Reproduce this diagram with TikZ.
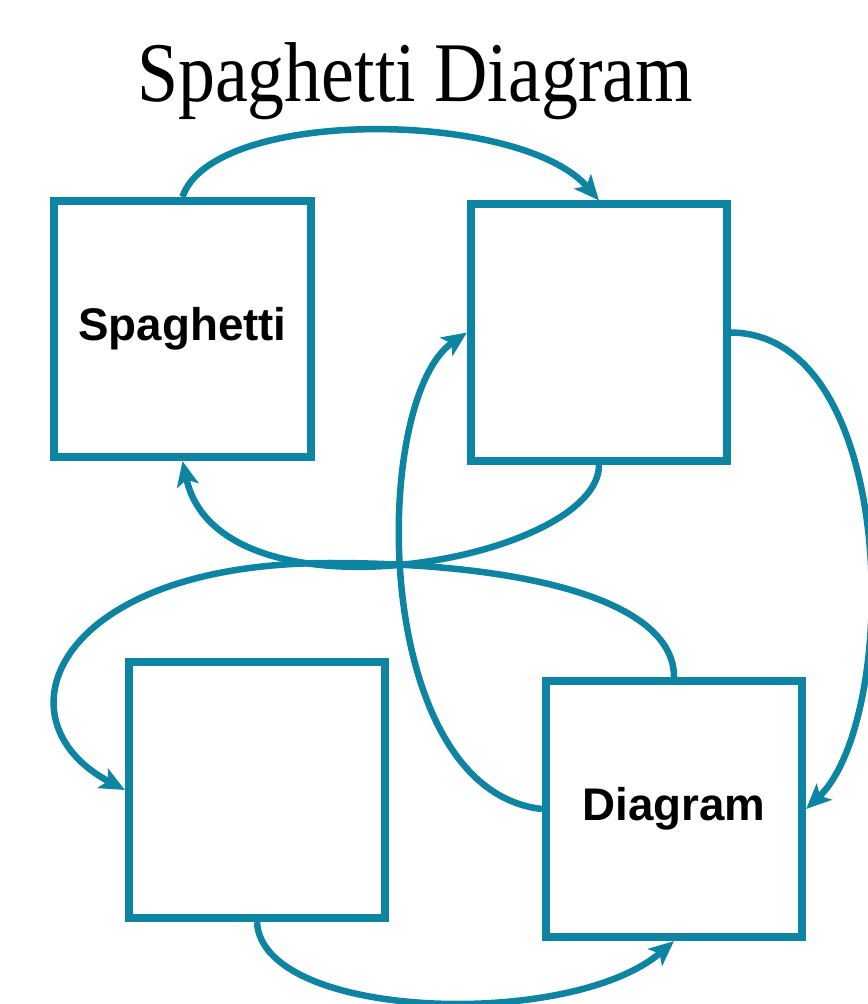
\documentclass[tikz,border=0pt]{standalone}
\usepackage{fontspec}
\setmainfont{Liberation Serif}
\newfontfamily\boxfont{Liberation Sans}
\usepackage{xcolor}
\usepackage{tikz}
\usetikzlibrary{arrows.meta}
\definecolor{spagblue}{RGB}{14,132,163}

\begin{document}
\begin{tikzpicture}[
	x=0.01cm, y=-0.01cm,
	box/.style={
		rectangle, draw=spagblue, line width=0.08cm,
		minimum width=2.56cm, minimum height=2.56cm, inner sep=0pt,
		font=\boxfont\bfseries\fontsize{13}{15}\selectfont
	},
	flow/.style={
		draw=spagblue, line width=0.065cm,
		-{Stealth[length=0.25cm, width=0.22cm, inset=0.06cm]}
	},
	title_label/.style={
		font=\fontsize{21}{25}\selectfont, text=black
	}
	]
	\useasboundingbox (0,0) rectangle (867,1004);
	
	% --- TITLE ---
	\node[title_label] (title) at (415,81) {\scalebox{1}[1.15]{Spaghetti Diagram}};
	
	% --- BOXES ---
	\node[box] (spag) at (182.5,329) {Spaghetti};
	\node[box] (topr) at (599,332.5) {};
	\node[box] (botl) at (257,790) {};
	\node[box] (diag) at (674,809) {Diagram};
	\coordinate (hump) at (330,563);
	
	% --- FLOWS ---
	\draw[flow] (spag.north) .. controls +(30,-90) and +(-79,-91) .. (topr.north);
	\draw[flow] (topr.east) .. controls +(169,2) and +(94,-89) .. (diag.east);
	\draw[flow] (topr.south) .. controls +(1,96) and +(37,169) .. (spag.south);
	\draw[flow] (diag.north) .. controls +(0,-75) and +(200,0) .. (hump)
		.. controls +(-275,0) and +(-132,-70) .. (botl.west);
	\draw[flow] (diag.west) .. controls +(-172,-19) and +(-97,67) .. (topr.west);
	\draw[flow] (botl.south) .. controls +(5,98) and +(-104,89) .. (diag.south);
	
\end{tikzpicture}
\end{document}
